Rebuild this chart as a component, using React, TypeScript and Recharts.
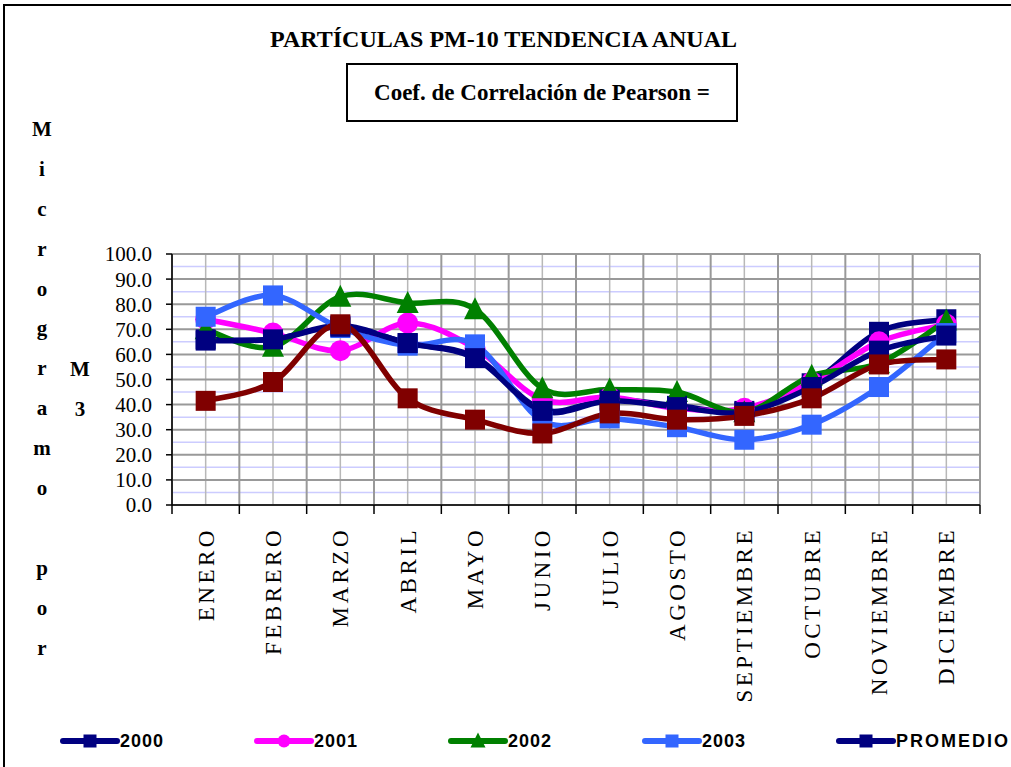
import React from 'react';
import { LineChart, Line, XAxis, YAxis, CartesianGrid } from 'recharts';

// Monthly PM-10 values
const months = [
  'ENERO', 'FEBRERO', 'MARZO', 'ABRIL', 'MAYO', 'JUNIO',
  'JULIO', 'AGOSTO', 'SEPTIEMBRE', 'OCTUBRE', 'NOVIEMBRE', 'DICIEMBRE',
];
const y2000 = [66, 66, 71.5, 64.5, 59, 38, 42, 39.5, 37.5, 48.5, 69, 74];
const y2001 = [74, 68.5, 61.5, 72.5, 62.5, 42, 43, 38.5, 38.5, 49, 65, 72];
const y2002 = [70, 63, 83, 80.5, 78, 46.5, 46, 45, 37, 51.5, 56.5, 73.5];
const y2003 = [75, 83.5, 70.5, 63.5, 64, 33.5, 34.5, 31, 26, 32, 47, 68.5];
const promedio = [65.5, 66, 71, 64.5, 58.5, 37.5, 41.5, 39, 37, 47, 61.5, 67.5];
const y2004 = [41.5, 49, 72, 42.5, 34, 28.5, 36.5, 34, 35.5, 42.5, 56, 58];

const yTicks = [0, 10, 20, 30, 40, 50, 60, 70, 80, 90, 100];
const minorTicks = [5, 15, 25, 35, 45, 55, 65, 75, 85, 95];
const axisTitle = ['M', 'i', 'c', 'r', 'o', 'g', 'r', 'a', 'm', 'o', '', 'p', 'o', 'r'];

type Shape = 'square' | 'circle' | 'triangle';
type Series = { key: string; name: string; color: string; shape: Shape; values: number[]; legend: boolean };

// drawing order matters: the unnamed maroon series sits on top of everything
const series: Series[] = [
  { key: 'y2000', name: '2000', color: '#000080', shape: 'square', values: y2000, legend: true },
  { key: 'y2001', name: '2001', color: '#FF00FF', shape: 'circle', values: y2001, legend: true },
  { key: 'y2002', name: '2002', color: '#008000', shape: 'triangle', values: y2002, legend: true },
  { key: 'y2003', name: '2003', color: '#3366FF', shape: 'square', values: y2003, legend: true },
  { key: 'promedio', name: 'PROMEDIO', color: '#000080', shape: 'square', values: promedio, legend: true },
  { key: 'y2004', name: '2004', color: '#800000', shape: 'square', values: y2004, legend: false },
];

const data = months.map((month, i) => {
  const row: Record<string, string | number> = { month };
  series.forEach((s) => (row[s.key] = s.values[i]));
  return row;
});

const SERIF = '"Liberation Serif", "Times New Roman", serif';
const SANS = '"Liberation Sans", Arial, sans-serif';

// layout of the plot area (pixels)
const W = 1011;
const H = 767;
const PLOT_LEFT = 172;
const PLOT_TOP = 254;
const PLOT_RIGHT = 980;
const PLOT_BOTTOM = 505;
const Y_AXIS_W = 60;
const X_AXIS_H = 200;
const BAND = (PLOT_RIGHT - PLOT_LEFT) / months.length;

// Excel-like smoothed line (Catmull-Rom through every point)
const excelSmooth = (context: any) => {
  let pts: [number, number][] = [];
  return {
    areaStart() {},
    areaEnd() {},
    lineStart() {
      pts = [];
    },
    lineEnd() {
      if (!pts.length) return;
      context.moveTo(pts[0][0], pts[0][1]);
      for (let i = 0; i < pts.length - 1; i++) {
        const p0 = pts[Math.max(0, i - 1)];
        const p1 = pts[i];
        const p2 = pts[i + 1];
        const p3 = pts[Math.min(pts.length - 1, i + 2)];
        context.bezierCurveTo(
          p1[0] + (p2[0] - p0[0]) / 6,
          p1[1] + (p2[1] - p0[1]) / 6,
          p2[0] - (p3[0] - p1[0]) / 6,
          p2[1] - (p3[1] - p1[1]) / 6,
          p2[0],
          p2[1]
        );
      }
    },
    point(x: number, y: number) {
      pts.push([+x, +y]);
    },
  };
};

function Marker({ shape, color, cx, cy, size }: { shape: Shape; color: string; cx: number; cy: number; size: number }) {
  const h = size / 2;
  if (shape === 'circle') return <circle cx={cx} cy={cy} r={h} fill={color} />;
  if (shape === 'triangle')
    return <polygon points={`${cx},${cy - h - 2} ${cx + h + 1},${cy + h} ${cx - h - 1},${cy + h}`} fill={color} />;
  return <rect x={cx - h} y={cy - h} width={size} height={size} fill={color} />;
}

const makeDot = (s: Series) => (props: any) => {
  const { cx, cy, index } = props;
  if (cx == null || cy == null) return <g key={`${s.key}-${index}`} />;
  return (
    <g key={`${s.key}-${index}`}>
      <Marker shape={s.shape} color={s.color} cx={cx} cy={cy} size={s.shape === 'circle' ? 21 : 20} />
    </g>
  );
};

function MonthTick(props: any) {
  const { x, y, payload, index } = props;
  const tx = x + 8;
  const ty = y + 14;
  return (
    <g>
      <line x1={x - BAND / 2} y1={PLOT_BOTTOM} x2={x - BAND / 2} y2={PLOT_BOTTOM + 9} stroke="#000" strokeWidth={1.5} />
      {index === months.length - 1 && (
        <line x1={x + BAND / 2} y1={PLOT_BOTTOM} x2={x + BAND / 2} y2={PLOT_BOTTOM + 9} stroke="#000" strokeWidth={1.5} />
      )}
      <text
        x={tx}
        y={ty}
        transform={`rotate(-90, ${tx}, ${ty})`}
        textAnchor="end"
        fontFamily={SERIF}
        fontSize={23}
        letterSpacing={3.5}
        fill="#000"
      >
        {payload.value}
      </text>
    </g>
  );
}

function LegendItem({ s }: { s: Series }) {
  return (
    <div style={{ display: 'flex', alignItems: 'center', width: 194 }}>
      <svg width={60} height={22}>
        <line x1={3} y1={11} x2={57} y2={11} stroke={s.color} strokeWidth={6} strokeLinecap="round" />
        <Marker shape={s.shape} color={s.color} cx={30} cy={11} size={13} />
      </svg>
      <span style={{ fontFamily: SANS, fontWeight: 'bold', fontSize: 18, letterSpacing: s.name.length > 4 ? 2 : 1 }}>
        {s.name}
      </span>
    </div>
  );
}

export default function App() {
  return (
    <div style={{ position: 'absolute', left: 0, top: 0, width: W, height: H, overflow: 'hidden', background: '#fff' }}>
      <div style={{ position: 'absolute', left: 3, top: 4, width: 1200, height: 1000, border: '2px solid #000' }} />

      <div
        style={{
          position: 'absolute', left: 0, top: 26, width: W - 4, textAlign: 'center',
          fontFamily: SERIF, fontWeight: 'bold', fontSize: 24,
        }}
      >
        PARTÍCULAS PM-10 TENDENCIA ANUAL
      </div>
      <div
        style={{
          position: 'absolute', left: 346, top: 63, width: 388, height: 55, border: '2px solid #000',
          display: 'flex', alignItems: 'center', justifyContent: 'center',
          fontFamily: SERIF, fontWeight: 'bold', fontSize: 23,
        }}
      >
        Coef. de Correlación de Pearson =
      </div>

      <div style={{ position: 'absolute', left: 22, top: 110, width: 40, fontFamily: SERIF, fontWeight: 'bold', fontSize: 21 }}>
        {axisTitle.map((c, i) => (
          <div key={i} style={{ height: 39.9, lineHeight: '39.9px', textAlign: 'center' }}>{c}</div>
        ))}
      </div>
      <div style={{ position: 'absolute', left: 62, top: 349, width: 36, fontFamily: SERIF, fontWeight: 'bold', fontSize: 21 }}>
        <div style={{ height: 40, lineHeight: '40px', textAlign: 'center' }}>M</div>
        <div style={{ height: 40, lineHeight: '40px', textAlign: 'center' }}>3</div>
      </div>

      <div style={{ position: 'absolute', left: 0, top: 0 }}>
        <LineChart
          width={W}
          height={H}
          data={data}
          margin={{
            top: PLOT_TOP,
            right: W - PLOT_RIGHT,
            left: PLOT_LEFT - Y_AXIS_W,
            bottom: H - PLOT_BOTTOM - X_AXIS_H,
          }}
        >
          <CartesianGrid
            horizontal
            vertical={false}
            stroke="#CCCCFF"
            strokeWidth={1.5}
            horizontalCoordinatesGenerator={({ offset }: any) =>
              minorTicks.map((v) => offset.top + offset.height * (1 - v / 100))
            }
          />
          <CartesianGrid horizontal={false} vertical stroke="#B8B8B8" strokeWidth={1.5} />
          <CartesianGrid
            horizontal
            vertical
            stroke="#999999"
            strokeWidth={2}
            verticalCoordinatesGenerator={({ offset }: any) =>
              months.map((_, i) => offset.left + (i * offset.width) / months.length).concat(offset.left + offset.width)
            }
          />
          <XAxis
            dataKey="month"
            scale="band"
            height={X_AXIS_H}
            interval={0}
            tickLine={false}
            axisLine={{ stroke: '#000', strokeWidth: 1.5 }}
            tick={<MonthTick />}
          />
          <YAxis
            width={Y_AXIS_W}
            domain={[0, 100]}
            ticks={yTicks}
            interval={0}
            tickFormatter={(v: number) => v.toFixed(1)}
            tickSize={6}
            tickMargin={14}
            tickLine={{ stroke: '#000', strokeWidth: 1.5 }}
            axisLine={{ stroke: '#000', strokeWidth: 1.5 }}
            tick={{ fill: '#000', fontFamily: SERIF, fontSize: 21 }}
          />
          {series.map((s) => (
            <Line
              key={s.key}
              dataKey={s.key}
              name={s.name}
              type={excelSmooth as any}
              stroke={s.color}
              strokeWidth={5.5}
              dot={makeDot(s)}
              activeDot={false}
              legendType={s.legend ? 'line' : 'none'}
              isAnimationActive={false}
            />
          ))}
        </LineChart>
      </div>

      <div style={{ position: 'absolute', left: 60, top: 730, display: 'flex' }}>
        {series.filter((s) => s.legend).map((s) => (
          <LegendItem key={s.key} s={s} />
        ))}
      </div>
    </div>
  );
}
